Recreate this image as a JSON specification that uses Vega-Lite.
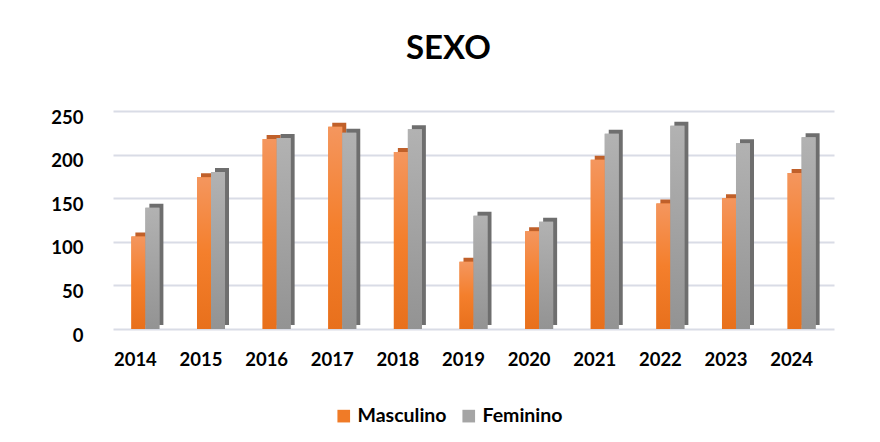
{
  "$schema": "https://vega.github.io/schema/vega-lite/v6.json",
  "autosize": "none",
  "width": 721,
  "height": 218,
  "padding": {"left": 113, "top": 111, "right": 46, "bottom": 113},
  "background": "white",
  "title": {
    "text": "SEXO",
    "font": "Lato",
    "fontSize": 33,
    "fontWeight": "bold",
    "color": "#000000",
    "anchor": "middle",
    "dx": -25,
    "offset": 42
  },
  "data": {
    "values": [
      {"ano": "2014", "sexo": "Masculino", "valor": 106},
      {"ano": "2014", "sexo": "Feminino", "valor": 139},
      {"ano": "2015", "sexo": "Masculino", "valor": 174},
      {"ano": "2015", "sexo": "Feminino", "valor": 180},
      {"ano": "2016", "sexo": "Masculino", "valor": 218},
      {"ano": "2016", "sexo": "Feminino", "valor": 219},
      {"ano": "2017", "sexo": "Masculino", "valor": 232},
      {"ano": "2017", "sexo": "Feminino", "valor": 225},
      {"ano": "2018", "sexo": "Masculino", "valor": 203},
      {"ano": "2018", "sexo": "Feminino", "valor": 229},
      {"ano": "2019", "sexo": "Masculino", "valor": 77},
      {"ano": "2019", "sexo": "Feminino", "valor": 130},
      {"ano": "2020", "sexo": "Masculino", "valor": 112},
      {"ano": "2020", "sexo": "Feminino", "valor": 123},
      {"ano": "2021", "sexo": "Masculino", "valor": 194},
      {"ano": "2021", "sexo": "Feminino", "valor": 224},
      {"ano": "2022", "sexo": "Masculino", "valor": 144},
      {"ano": "2022", "sexo": "Feminino", "valor": 233},
      {"ano": "2023", "sexo": "Masculino", "valor": 150},
      {"ano": "2023", "sexo": "Feminino", "valor": 213},
      {"ano": "2024", "sexo": "Masculino", "valor": 179},
      {"ano": "2024", "sexo": "Feminino", "valor": 220}
    ]
  },
  "encoding": {
    "x": {
      "field": "ano",
      "type": "nominal",
      "scale": {"paddingInner": 0.573, "paddingOuter": 0.28},
      "axis": {
        "title": null,
        "labelAngle": 0,
        "labelFont": "Lato",
        "labelFontSize": 18.5,
        "labelFontWeight": "bold",
        "labelColor": "#000000",
        "labelOffset": -10,
        "labelPadding": 21,
        "ticks": false,
        "domain": false
      }
    },
    "y": {
      "field": "valor",
      "type": "quantitative",
      "scale": {"domain": [0, 250], "nice": false},
      "axis": {
        "title": null,
        "values": [0, 50, 100, 150, 200, 250],
        "labelFont": "Lato",
        "labelFontSize": 18.5,
        "labelFontWeight": "bold",
        "labelColor": "#000000",
        "labelOffset": 6,
        "labelPadding": 30,
        "ticks": false,
        "domain": false,
        "grid": true,
        "gridColor": "#D9DCE6",
        "gridWidth": 2
      }
    }
  },
  "layer": [
    {
      "transform": [{"filter": "datum.sexo === 'Masculino'"}],
      "mark": {"type": "bar", "color": "#C0602A", "width": {"band": 0.5}, "xOffset": -3, "yOffset": -4}
    },
    {
      "transform": [{"filter": "datum.sexo === 'Feminino'"}],
      "mark": {"type": "bar", "color": "#6E6E6E", "width": {"band": 0.5}, "xOffset": 11, "yOffset": -4}
    },
    {
      "mark": {"type": "bar"},
      "encoding": {
        "xOffset": {
          "field": "sexo",
          "type": "nominal",
          "scale": {"domain": ["Masculino", "Feminino"], "paddingInner": 0, "paddingOuter": 0}
        },
        "color": {
          "field": "sexo",
          "type": "nominal",
          "scale": {"domain": ["Masculino", "Feminino"], "range": ["#F07B27", "#A5A5A5"]},
          "legend": {
            "title": null,
            "orient": "none",
            "direction": "horizontal",
            "legendX": 221,
            "legendY": 295,
            "symbolType": "square",
            "symbolSize": 160,
            "symbolStrokeWidth": 0,
            "labelFont": "Lato",
            "labelFontSize": 19.5,
            "labelFontWeight": "bold",
            "labelColor": "#000000",
            "labelOffset": 4,
            "columnPadding": 12
          }
        }
      }
    },
    {
      "transform": [{"filter": "datum.sexo === 'Masculino'"}],
      "mark": {
        "type": "bar",
        "width": {"band": 0.5},
        "xOffset": -7,
        "color": {
          "gradient": "linear",
          "x1": 0, "y1": 0, "x2": 0, "y2": 1,
          "stops": [
            {"offset": 0, "color": "#F4965E"},
            {"offset": 0.5, "color": "#F47F2C"},
            {"offset": 1, "color": "#E8701C"}
          ]
        }
      }
    },
    {
      "transform": [{"filter": "datum.sexo === 'Feminino'"}],
      "mark": {
        "type": "bar",
        "width": {"band": 0.5},
        "xOffset": 7,
        "color": {
          "gradient": "linear",
          "x1": 0, "y1": 0, "x2": 0, "y2": 1,
          "stops": [
            {"offset": 0, "color": "#B2B2B2"},
            {"offset": 1, "color": "#939393"}
          ]
        }
      }
    }
  ],
  "config": {"view": {"stroke": null}}
}
